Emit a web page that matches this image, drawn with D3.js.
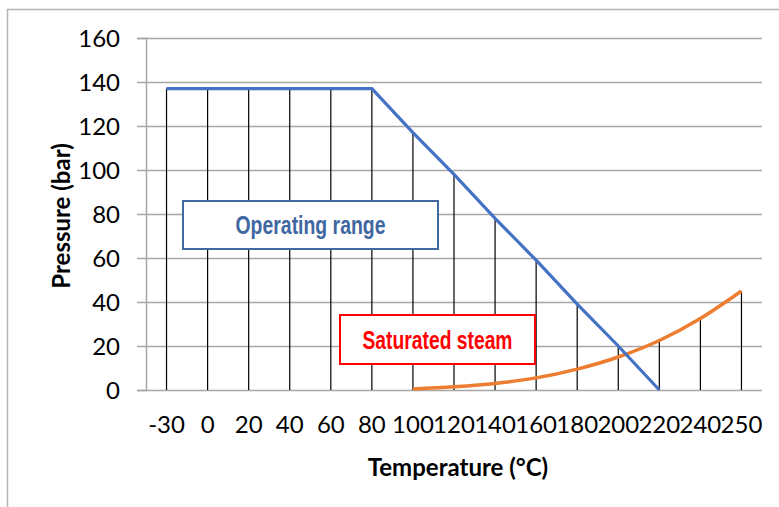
<!DOCTYPE html>
<html>
<head>
<meta charset="utf-8">
<script src="https://cdn.jsdelivr.net/npm/d3@7"></script>
<style>
  body { margin: 0; background: #fff; }
  svg { display: block; }
  .tick-label { font-family: Lato, "Open Sans", sans-serif; font-size: 24px; fill: #000; }
  .axis-title { font-family: Lato, "Open Sans", sans-serif; font-weight: bold; fill: #000; }
  .note { font-family: "Liberation Sans", Arial, sans-serif; font-size: 26px; font-weight: bold; }
</style>
</head>
<body>
<div id="chart"></div>
<script>
// categories (temperature, °C) and series (pressure, bar)
var temps = ["-30", "0", "20", "40", "60", "80", "100", "120", "140", "160", "180", "200", "220", "240", "250"];
var operating = [137, 137, 137, 137, 137, 137, 117, 98, 78, 59, 39, 20, 0, null, null];
var steam = [null, null, null, null, null, null, 0.5, 1.5, 3, 5.5, 9.5, 15, 22.5, 32.5, 45];
var yTicks = [0, 20, 40, 60, 80, 100, 120, 140, 160];

var W = 779, H = 507;
var margin = {top: 38, right: 17, bottom: 117, left: 146},
  width = W - margin.left - margin.right,
  height = H - margin.top - margin.bottom;

var svg = d3.select("#chart").append("svg")
  .attr("width", W)
  .attr("height", H);

// chart frame
svg.append("rect")
  .attr("x", 7.5).attr("y", 9.5)
  .attr("width", W + 10).attr("height", H + 10)
  .attr("fill", "none")
  .attr("stroke", "#b4b4b4")
  .attr("stroke-width", 1.5);

var g = svg.append("g")
  .attr("transform", "translate(" + margin.left + "," + margin.top + ")");

// scales
var x = d3.scaleBand().domain(temps).range([0, width]).padding(0);
var y = d3.scaleLinear().domain([0, 160]).range([height, 0]);
function cx(d) { return x(d) + x.bandwidth() / 2; }

// horizontal gridlines + outer tick marks
g.append("g")
  .call(d3.axisLeft(y).tickValues(yTicks).tickSize(-width).tickFormat(""))
  .call(function(s) {
    s.select(".domain").remove();
    s.selectAll("line").attr("stroke", "#a6a6a6").attr("stroke-width", 1.5);
  });
g.append("g")
  .call(d3.axisLeft(y).tickValues(yTicks).tickSize(9).tickFormat(""))
  .call(function(s) {
    s.select(".domain").attr("stroke", "#a6a6a6").attr("stroke-width", 1.5);
    s.selectAll("line").attr("stroke", "#a6a6a6").attr("stroke-width", 1.5);
  });

// y tick labels
g.selectAll(".ylab")
  .data(yTicks)
  .enter().append("text")
  .attr("class", "tick-label")
  .attr("x", -26)
  .attr("y", function(d) { return y(d); })
  .attr("dy", "0.36em")
  .attr("text-anchor", "end")
  .text(function(d) { return d; });

// x tick labels
g.selectAll(".xlab")
  .data(temps)
  .enter().append("text")
  .attr("class", "tick-label")
  .attr("x", function(d) { return cx(d); })
  .attr("y", height + 43)
  .attr("text-anchor", "middle")
  .text(function(d) { return d; });

// drop lines from 0 to the higher series
g.selectAll(".drop")
  .data(temps)
  .enter().append("line")
  .attr("x1", function(d) { return cx(d); })
  .attr("x2", function(d) { return cx(d); })
  .attr("y1", y(0))
  .attr("y2", function(d, i) { return y(Math.max(operating[i] || 0, steam[i] || 0)); })
  .attr("stroke", "#000")
  .attr("stroke-width", 1.2);

// series lines
var line = d3.line()
  .defined(function(d) { return d.v != null; })
  .x(function(d) { return cx(d.t); })
  .y(function(d) { return y(d.v); });

g.append("path")
  .datum(temps.map(function(t, i) { return {t: t, v: steam[i]}; }))
  .attr("fill", "none")
  .attr("stroke", "#ED7D31")
  .attr("stroke-width", 3.5)
  .attr("d", line.curve(d3.curveMonotoneX));

g.append("path")
  .datum(temps.map(function(t, i) { return {t: t, v: operating[i]}; }))
  .attr("fill", "none")
  .attr("stroke", "#4472C4")
  .attr("stroke-width", 3.2)
  .attr("d", line.curve(d3.curveLinear));

// annotation boxes (text squeezed to look like a narrow face)
function note(x0, y0, w, h, txt, stroke, fill) {
  svg.append("rect")
    .attr("x", x0).attr("y", y0)
    .attr("width", w).attr("height", h)
    .attr("fill", "#fff")
    .attr("stroke", stroke)
    .attr("stroke-width", 2);
  svg.append("text")
    .attr("class", "note")
    .attr("x", x0 + w / 2)
    .attr("y", y0 + h / 2)
    .attr("dy", "0.36em")
    .attr("text-anchor", "middle")
    .attr("textLength", 150)
    .attr("lengthAdjust", "spacingAndGlyphs")
    .attr("fill", fill)
    .text(txt);
}
note(183, 201, 255, 48, "Operating range", "#41689f", "#3f67a1");
note(340, 315, 195, 49, "Saturated steam", "#ff0000", "#ff0000");

// axis titles
svg.append("text")
  .attr("class", "axis-title")
  .attr("x", 458)
  .attr("y", 476)
  .attr("text-anchor", "middle")
  .style("font-size", "24px")
  .text("Temperature (°C)");

svg.append("text")
  .attr("class", "axis-title")
  .attr("transform", "translate(70,216) rotate(-90)")
  .attr("text-anchor", "middle")
  .style("font-size", "24px")
  .text("Pressure (bar)");
</script>
</body>
</html>
